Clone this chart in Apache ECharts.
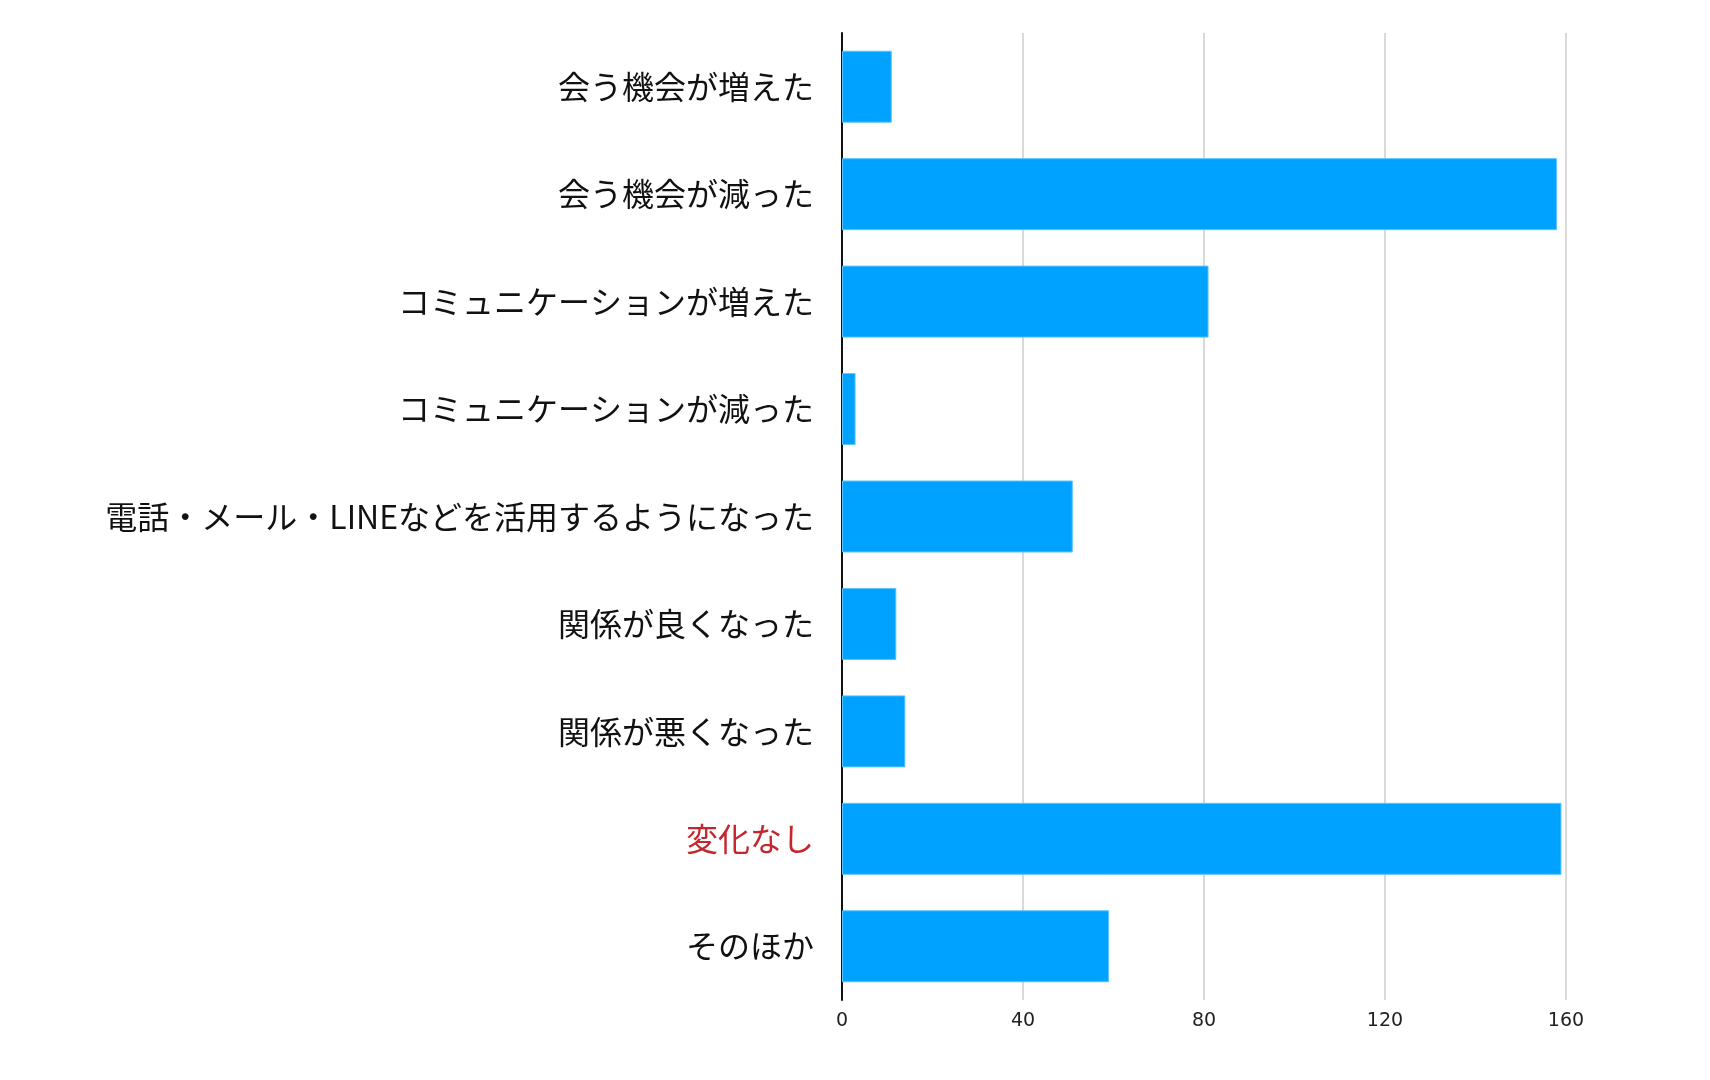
<!DOCTYPE html>
<html><head><meta charset="utf-8">
<script src="https://cdn.jsdelivr.net/npm/echarts@6/dist/echarts.min.js"></script>
<style>html,body{margin:0;padding:0;background:#fff}#c{width:1710px;height:1080px}</style>
</head><body><div id="c"></div>
<script>
var categories = ['会う機会が増えた','会う機会が減った','コミュニケーションが増えた','コミュニケーションが減った','電話・メール・LINEなどを活用するようになった','関係が良くなった','関係が悪くなった','変化なし','そのほか'];
var values = [11,158,81,3,51,12,14,159,59];
var highlight = '変化なし';
var chart = echarts.init(document.getElementById('c'));
chart.setOption({
  animation:false,
  grid:{left:842,top:33,width:724,height:967,containLabel:false},
  xAxis:{type:'value',min:0,max:160,interval:40,
    axisLine:{show:false},axisTick:{show:false},
    splitLine:{lineStyle:{color:'#cccccc',width:1.5}},
    axisLabel:{color:'#222',fontSize:19,fontFamily:'DejaVu Sans',margin:12}},
  yAxis:{type:'category',inverse:true,data:categories,
    axisLine:{show:true,lineStyle:{color:'#111',width:2}},axisTick:{show:false},
    axisLabel:{fontSize:32,fontFamily:'Noto Sans CJK JP',margin:28,
      color:function(v){return v===highlight?'#c4262e':'#111';}}},
  series:[{type:'bar',data:values,barWidth:72,
    itemStyle:{color:'#00a2ff',borderColor:'#5cc4ff',borderWidth:1}}]
});
</script></body></html>
